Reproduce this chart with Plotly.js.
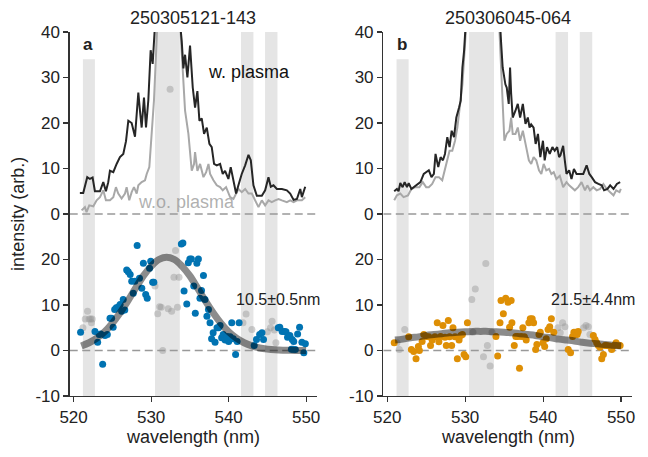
<!DOCTYPE html>
<html>
<head>
<meta charset="utf-8">
<script src="https://cdn.plot.ly/plotly-3.0.1.min.js"></script>
<style>html,body{margin:0;padding:0;background:#fff}#chart{width:648px;height:457px}</style>
</head>
<body>
<div id="chart"></div>
<script>
// ---------- data ----------
const OFFSET = 30; // upper spectra are shifted up by 30 units
const yTickVals = [-10, 0, 10, 20, 30, 40, 50, 60, 70];
const yTickText = ['-10', '0', '10', '20', '0', '10', '20', '30', '40'];
const xTickVals = [520, 530, 540, 550];
const bandStart = [521.2, 530.5, 541.6, 544.7];
const bandEnd   = [522.75, 533.7, 543.2, 546.3];
const bandTop   = [64, 70, 70, 70];

// panel a: spectra (upper part, raw units)
const aWithX = [520.81,521.24,521.76,522.1,522.45,522.75,523.4,523.83,524.17,524.47,524.69,525.12,525.55,525.98,526.41,526.76,527.06,527.49,527.92,528.35,528.56,528.78,529.08,529.34,529.64,529.94,530.2,530.5,531.0,531.5,532.0,533.73,533.95,534.16,534.38,534.68,535.02,535.37,535.67,535.97,536.23,536.53,536.83,537.18,537.52,537.82,538.12,538.47,538.9,539.24,539.54,539.97,540.27,540.62,540.96,541.26,541.69,542.13,542.56,542.86,543.2,543.64,544.28,544.71,545.14,545.44,545.79,546.22,546.87,547.51,547.94,548.38,548.81,549.24,549.45,549.88];
const aWithY = [4.6,4.6,8.1,7.7,8.0,5.0,5.0,7.0,5.0,7.0,9.5,9.2,11.0,12.5,13.2,16.0,20.5,20.0,17.0,26.7,22.7,19.0,25.6,19.0,25.0,36.0,33.0,42,55,70,60,42,38,32,35,30,37,27.8,23.4,27.0,20.5,21.0,17.6,19.0,15.4,14.7,11.0,10.7,11.0,8.8,9.5,7.7,10.3,7.4,4.5,6.3,8.8,10.7,13.0,11.8,6.3,4.0,4.0,5.2,8.1,6.0,6.3,5.5,5.5,5.2,4.5,3.1,3.3,5.5,3.7,6.0];
const aWithoutX = [521.03,521.46,521.67,522.02,522.54,522.97,523.4,523.83,524.17,524.69,525.12,525.46,525.76,526.19,526.63,526.84,527.18,527.49,527.79,528.14,528.35,528.78,529.21,529.43,529.77,530.07,530.37,530.63,530.8,531.5,532.0,532.8,533.73,534.08,534.38,534.81,535.02,535.24,535.54,535.67,535.97,536.32,536.75,537.1,537.4,537.61,538.04,538.47,538.9,539.24,539.67,540.19,540.62,540.96,541.26,541.69,542.13,542.56,542.99,543.42,543.85,544.28,544.71,545.14,545.57,546.0,546.44,546.87,547.51,547.94,548.38,548.81,549.45,549.88];
const aWithoutY = [0.8,1.5,0.4,1.9,1.7,3.0,3.7,5.2,3.0,3.0,3.7,5.9,4.5,3.4,4.5,5.9,3.0,4.8,5.9,4.5,6.3,7.0,7.4,8.8,10.3,17.6,25.0,35.0,42,80,90,70,42,32,22.7,17.6,12.5,9.5,11.0,13.6,9.5,11.0,8.1,9.2,11.0,8.8,7.4,6.3,5.9,5.2,5.9,3.7,3.3,4.5,5.5,4.8,5.5,4.5,4.5,3.0,1.5,3.0,1.9,3.0,2.6,3.0,3.3,3.0,2.6,3.0,2.6,3.0,3.0,3.7];

// panel a: difference points (lower part)
const aDiffX = [520.9,522.76,523.1,523.3,523.5,523.75,524.05,524.35,524.7,524.9,525.1,525.3,525.5,525.8,526.0,526.2,526.4,526.6,526.85,527.05,527.3,527.5,527.7,527.9,528.2,528.5,528.8,529.0,529.3,529.5,529.8,529.95,530.2,530.35,533.9,534.1,534.25,534.6,534.8,535.0,535.2,535.5,535.7,535.9,536.1,536.3,536.5,536.75,536.95,537.2,537.4,537.6,537.8,538.0,538.25,538.5,538.7,538.9,539.1,539.3,539.55,539.8,540.0,540.2,540.4,540.6,540.9,541.1,541.35,543.3,543.6,544.0,544.3,544.5,546.4,546.6,546.9,547.2,547.4,547.6,547.9,548.2,548.4,548.6,548.9,549.15,549.45,549.7,549.9,548.1,548.3];
const aDiffY = [4.0,4.2,1.8,3.5,3.6,-3.0,3.3,3.5,7.1,7.1,5.1,9.0,9.4,9.6,10.1,8.6,11.2,8.9,17.7,17.3,16.7,15.2,12.6,15.2,23.1,15.9,13.7,19.2,12.3,11.5,18.1,19.6,15.0,15.0,23.4,23.6,13.1,10.2,19.3,20.1,20.1,14.2,8.2,19.2,20.1,11.5,13.2,16.5,11.2,7.5,9.0,6.1,2.6,3.9,1.8,5.0,5.0,5.5,2.8,3.5,2.3,3.1,2.0,3.0,6.1,2.6,-0.9,2.0,6.1,1.1,2.4,3.5,3.9,2.4,5.0,5.1,4.2,4.2,4.1,2.9,3.3,2.4,2.0,0.2,3.6,5.1,1.8,-0.5,1.5,0.3,0.3];
const aExclX = [521.2,521.5,521.8,522.0,522.2,522.4,522.3,530.5,530.85,531.1,531.3,531.5,532.2,532.65,532.95,533.15,533.4,533.6,532.45,541.85,542.25,543.0,545.0,545.4,545.6,545.9,546.1];
const aExclY = [5.0,6.9,8.6,6.9,6.9,6.9,6.1,14.2,8.1,9.6,9.5,0.0,9.2,8.6,16.1,22.0,9.5,16.1,57.4,6.1,8.0,4.6,4.1,5.0,6.4,4.5,1.7];
const aFitX = [521,522,523,524,525,526,527,528,529,530,531,532,533,534,535,536,537,538,539,540,541,542,543,544,545,546,547,548,549,550];
const aFitY = [1.0,1.7,2.7,4.1,6.0,8.3,10.9,13.7,16.4,18.5,20.0,20.5,20.0,18.5,16.4,13.7,10.9,8.3,6.0,4.1,2.7,1.7,1.0,0.55,0.3,0.15,0.07,0.03,0.01,0.0];

// panel b: spectra (upper part, raw units)
const bWithX = [520.9,521.25,521.46,521.68,521.98,522.24,522.54,522.76,523.1,523.4,523.83,524.26,524.69,525.0,525.34,525.68,525.99,526.2,526.55,526.85,527.15,527.41,527.71,528.0,528.27,528.57,528.87,529.22,529.43,529.65,529.86,530.08,531.0,532.0,533.0,534.47,534.6,534.81,535.16,535.33,535.59,535.76,535.9,536.1,536.45,536.75,537.05,537.4,537.74,538.04,538.26,538.47,538.78,539.04,539.34,539.64,539.98,540.2,540.5,540.85,541.19,541.49,541.8,542.05,542.22,542.57,542.78,543.0,543.34,543.64,543.95,544.29,544.72,545.15,545.58,545.93,546.23,546.66,547.09,547.52,547.82,548.25,548.6,549.03,549.46,549.88];
const bWithY = [5.0,5.5,5.0,6.8,5.9,7.0,5.9,6.8,5.5,5.9,6.3,7.0,8.8,9.2,9.6,8.1,8.8,13.2,10.3,12.5,11.8,13.2,16.9,14.7,18.3,16.9,21.2,23.4,24.9,32.2,35.8,42,70,90,60,42,38,32.2,28.5,27.8,24.2,32.2,26.4,21.2,22.7,24.2,21.2,24.2,19.8,21.2,19.0,19.7,19.0,15.4,17.6,12.5,16.1,11.8,14.7,13.2,14.7,13.9,14.7,12.5,12.9,15.0,11.8,8.8,9.6,7.7,9.9,8.8,8.8,8.8,10.7,8.8,8.1,7.0,6.6,6.3,5.2,5.5,6.3,5.5,6.6,7.0];
const bWithoutX = [520.9,521.25,521.68,522.1,522.67,523.1,523.62,524.13,524.56,525.0,525.34,525.77,526.2,526.63,527.06,527.41,527.71,528.0,528.35,528.7,529.0,529.22,529.43,529.65,529.86,530.08,531.0,532.0,533.0,534.38,534.6,534.81,535.03,535.33,535.68,535.9,536.1,536.45,536.75,537.05,537.4,537.83,538.17,538.47,538.78,539.12,539.47,539.77,540.07,540.41,540.76,541.06,541.36,541.7,542.14,542.57,543.0,543.34,543.64,544.07,544.5,544.93,545.37,545.67,546.01,546.44,546.87,547.3,547.73,548.16,548.6,549.03,549.37,549.8,549.97];
const bWithoutY = [3.0,4.1,4.5,3.7,4.1,5.5,5.9,5.9,7.0,5.9,5.9,6.6,8.1,8.1,7.4,9.6,11.8,13.9,13.9,16.1,19.0,22.7,24.9,28.5,34.0,42,65,80,55,41,32.2,24.9,16.1,17.6,18.3,21.2,17.6,17.6,19.0,16.1,18.3,14.7,11.8,11.0,12.5,11.8,9.6,8.8,11.0,9.6,9.9,8.8,9.2,7.7,8.4,5.9,7.0,6.3,5.9,5.2,5.9,7.0,5.2,6.3,5.2,5.9,5.2,5.5,6.6,5.5,4.8,4.1,5.2,4.8,5.5];

// panel b: difference points (lower part)
const bDiffX = [520.9,522.76,523.1,523.4,523.7,524.0,524.13,524.48,524.69,525.0,525.34,525.56,525.77,526.12,526.42,526.63,526.85,527.15,527.41,527.58,527.84,528.0,528.27,528.44,528.7,529.0,529.22,529.43,529.65,529.86,530.08,530.29,533.95,534.17,534.47,534.6,534.9,535.2,535.5,535.7,535.9,536.0,536.3,536.5,536.75,536.97,537.18,537.4,537.6,537.83,538.17,538.35,538.6,538.78,539.04,539.2,539.47,539.64,539.98,540.2,540.4,540.63,540.85,541.06,541.37,543.22,543.52,543.78,543.95,544.2,544.37,544.5,546.44,546.66,546.87,547.09,547.3,547.52,547.73,547.95,548.16,548.5,548.8,549.1,549.36,549.66,549.88];
const bDiffY = [1.7,3.0,0.2,-0.2,-1.8,0.9,0.0,2.0,3.5,3.1,3.0,1.1,2.3,3.0,6.1,1.9,3.1,5.5,2.9,1.1,6.6,3.0,1.1,5.0,3.0,-1.8,2.3,3.3,3.5,-0.9,-1.4,6.1,3.1,-1.2,6.1,11.0,8.1,11.5,10.6,5.1,11.0,6.1,1.1,3.1,3.1,-3.9,3.1,5.0,3.0,2.3,6.1,7.0,7.0,6.1,0.2,1.3,3.5,4.0,1.7,0.9,2.6,4.6,5.2,7.0,4.0,0.2,-0.5,3.1,4.0,4.0,3.5,4.2,3.3,2.4,1.7,1.1,0.7,-1.8,-0.9,1.1,1.1,1.0,0.2,1.1,1.7,1.1,1.1];
const bExclX = [521.25,521.55,522.25,530.85,531.0,531.3,532.35,532.65,532.85,533.2,533.45,541.9,542.2,542.5,542.8,545.2,545.5,545.8,546.0];
const bExclY = [1.7,0.2,4.6,11.2,4.0,13.5,-1.4,19.1,1.1,-3.4,4.0,5.0,3.9,6.1,5.2,5.0,5.5,5.2,3.5];
const bFitX = [521,522,523,524,525,526,527,528,529,530,531,532,533,534,535,536,537,538,539,540,541,542,543,544,545,546,547,548,549,550];
const bFitY = [2.3,2.5,2.8,3.0,3.3,3.5,3.7,3.9,4.0,4.1,4.2,4.2,4.2,4.1,4.0,3.9,3.7,3.5,3.3,3.0,2.8,2.5,2.3,2.1,1.8,1.6,1.5,1.3,1.15,1.0];

const titles = ['250305121-143', '250306045-064'];
const letters = ['a', 'b'];
const fwhmLabels = ['10.5±0.5nm', '21.5±4.4nm'];

// ---------- styling ----------
const FONT = 'Liberation Sans, Arial, Helvetica, sans-serif';
const TXT = '#222222';
const BLUE = '#0173b2';
const ORANGE = '#de8f05';

function panel(xa, ya, wX, wY, woX, woY, dX, dY, eX, eY, fX, fY, col) {
  const shift = v => v + OFFSET;
  return [
    {x: woX, y: woY.map(shift), xaxis: xa, yaxis: ya, mode: 'lines', type: 'scatter',
     line: {color: '#a8a8a8', width: 2}, hoverinfo: 'skip', showlegend: false},
    {x: wX, y: wY.map(shift), xaxis: xa, yaxis: ya, mode: 'lines', type: 'scatter',
     line: {color: '#262626', width: 2}, hoverinfo: 'skip', showlegend: false},
    {x: eX, y: eY, xaxis: xa, yaxis: ya, mode: 'markers', type: 'scatter', cliponaxis: true,
     marker: {color: 'rgba(150,150,150,0.45)', size: 7}, showlegend: false},
    {x: dX, y: dY, xaxis: xa, yaxis: ya, mode: 'markers', type: 'scatter', cliponaxis: true,
     marker: {color: col, size: 7}, showlegend: false},
    {x: fX, y: fY, xaxis: xa, yaxis: ya, mode: 'lines', type: 'scatter',
     line: {color: 'rgba(0,0,0,0.45)', width: 7, shape: 'spline'}, showlegend: false}
  ];
}

const data = [].concat(
  panel('x', 'y', aWithX, aWithY, aWithoutX, aWithoutY, aDiffX, aDiffY, aExclX, aExclY, aFitX, aFitY, BLUE),
  panel('x2', 'y2', bWithX, bWithY, bWithoutX, bWithoutY, bDiffX, bDiffY, bExclX, bExclY, bFitX, bFitY, ORANGE)
);

const xRange = [519.5, 551.4];
function xAxis(dom, anchor) {
  return {domain: dom, anchor: anchor, range: xRange, tickvals: xTickVals,
    ticks: 'outside', ticklen: 5, tickwidth: 1.2, tickcolor: '#333',
    showline: true, linecolor: '#333', linewidth: 1.3, showgrid: false, zeroline: false,
    tickfont: {family: FONT, size: 17, color: TXT}, fixedrange: true};
}
function yAxis(anchor) {
  return {domain: [0.1335, 0.930], anchor: anchor, range: [-10, 70],
    tickvals: yTickVals, ticktext: yTickText,
    ticks: 'outside', ticklen: 5, tickwidth: 1.2, tickcolor: '#333',
    showline: true, linecolor: '#333', linewidth: 1.3, showgrid: false, zeroline: false,
    tickfont: {family: FONT, size: 17, color: TXT}, fixedrange: true};
}

const shapes = [];
[['x', 'y'], ['x2', 'y2']].forEach(([xr, yr]) => {
  bandStart.forEach((s, i) => {
    shapes.push({type: 'rect', xref: xr, yref: yr, x0: s, x1: bandEnd[i], y0: -10, y1: bandTop[i],
      fillcolor: '#e5e5e5', line: {width: 0}, layer: 'below'});
  });
  [0, OFFSET].forEach(v => {
    shapes.push({type: 'line', xref: xr, yref: yr, x0: xRange[0], x1: xRange[1], y0: v, y1: v,
      line: {color: '#999999', width: 1.6, dash: '8px,4.5px'}, layer: 'below'});
  });
});

const annotations = [];
[['x', 'y'], ['x2', 'y2']].forEach(([xr, yr], i) => {
  annotations.push({xref: xr + ' domain', yref: 'paper', x: 0.5, y: 0.9606, text: titles[i],
    showarrow: false, xanchor: 'center', yanchor: 'middle', font: {family: FONT, size: 18, color: TXT}});
  annotations.push({xref: xr, yref: yr, x: 521.9, y: 67.3, text: '<b>' + letters[i] + '</b>',
    showarrow: false, xanchor: 'center', yanchor: 'middle', font: {family: FONT, size: 17, color: TXT}});
  annotations.push({xref: xr, yref: yr, x: 546.4, y: 11.2, text: fwhmLabels[i],
    showarrow: false, xanchor: 'center', yanchor: 'middle', font: {family: FONT, size: 16, color: TXT}});
  annotations.push({xref: xr + ' domain', yref: 'paper', x: 0.5, y: 0.0438, text: 'wavelength (nm)',
    showarrow: false, xanchor: 'center', yanchor: 'middle', font: {family: FONT, size: 18, color: TXT}});
});
annotations.push({xref: 'x', yref: 'y', x: 542.6, y: 61.3, text: 'w. plasma', showarrow: false,
  xanchor: 'center', yanchor: 'middle', font: {family: FONT, size: 18, color: '#111'}});
annotations.push({xref: 'x', yref: 'y', x: 534.6, y: 32.6, text: 'w.o. plasma', showarrow: false,
  xanchor: 'center', yanchor: 'middle', font: {family: FONT, size: 18, color: 'rgba(150,150,150,0.75)'}});
annotations.push({xref: 'paper', yref: 'paper', x: 18 / 648, y: 0.532, text: 'intensity (arb.)',
  textangle: -90, showarrow: false, xanchor: 'center', yanchor: 'middle', font: {family: FONT, size: 18, color: TXT}});

const layout = {
  width: 648, height: 457,
  margin: {l: 0, r: 0, t: 0, b: 0},
  paper_bgcolor: '#fff', plot_bgcolor: '#fff',
  showlegend: false,
  xaxis: xAxis([0.1076, 0.4892], 'y'),
  yaxis: yAxis('x'),
  xaxis2: xAxis([0.5915, 0.9753], 'y2'),
  yaxis2: yAxis('x2'),
  shapes: shapes,
  annotations: annotations
};

Plotly.newPlot('chart', data, layout, {displayModeBar: false, staticPlot: true});
</script>
</body>
</html>
